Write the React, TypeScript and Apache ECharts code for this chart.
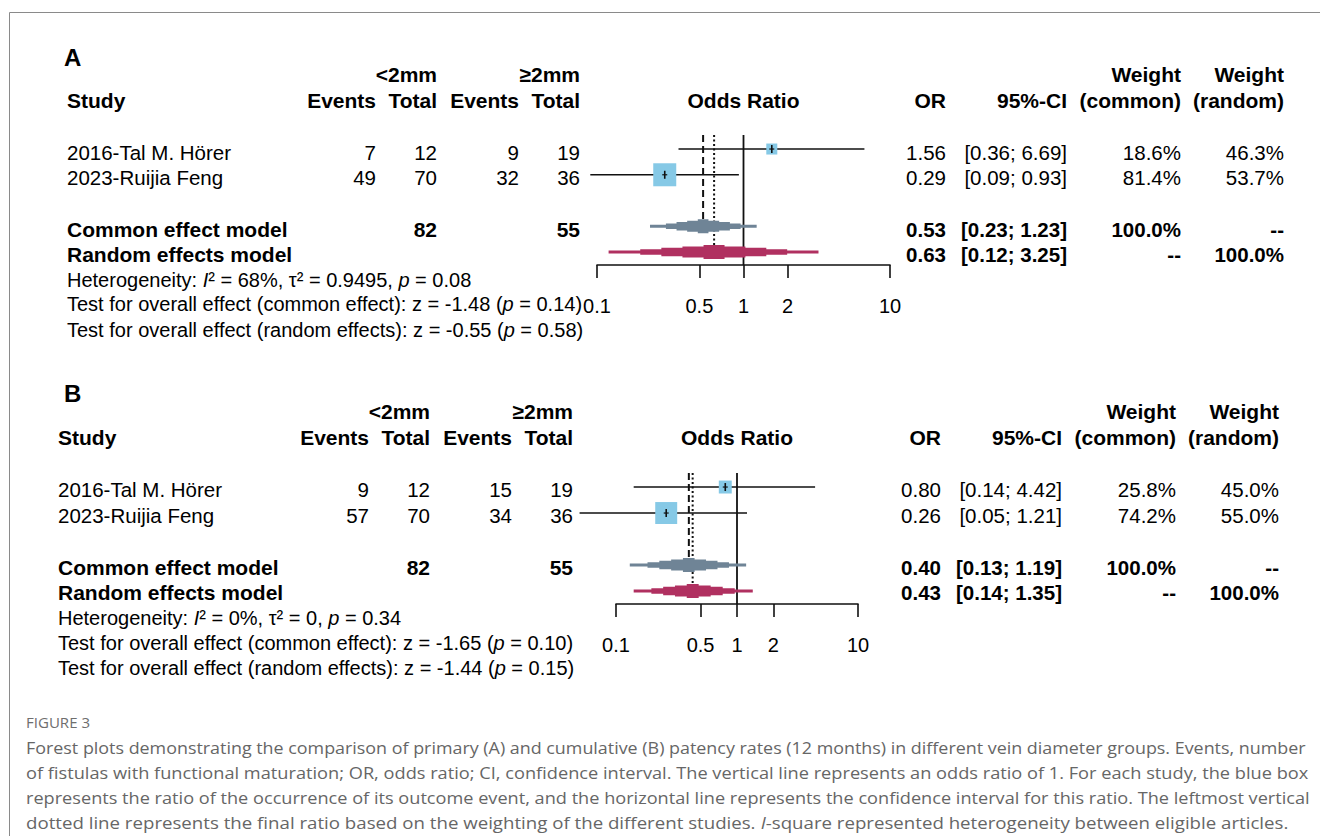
import React, { useEffect, useRef } from 'react';
import * as echarts from 'echarts';

// ---------------- DATA ----------------
const studies = ['2016-Tal M. Hörer', '2023-Ruijia Feng'];
const pooledLabels = ['Common effect model', 'Random effects model'];
const tickValues = [0.1, 0.5, 1, 2, 10];
const studyRows = [1, 2];
const pooledRows = [4, 5];

// Panel A (primary patency)
const aEventsLt = [7, 49];
const aTotalLt = [12, 70];
const aEventsGe = [9, 32];
const aTotalGe = [19, 36];
const aOR = [1.56, 0.29];
const aLower = [0.36, 0.09];
const aUpper = [6.69, 0.93];
const aWeightCommon = [18.6, 81.4];
const aWeightRandom = [46.3, 53.7];
const aPooledOR = [0.53, 0.63];
const aPooledLower = [0.23, 0.12];
const aPooledUpper = [1.23, 3.25];
const aPooledTotals = [82, 55];
const aHeterogeneity = ['68%', '0.9495', '0.08'];
const aTestCommon = ['-1.48', '0.14'];
const aTestRandom = ['-0.55', '0.58'];

// Panel B (cumulative patency)
const bEventsLt = [9, 57];
const bTotalLt = [12, 70];
const bEventsGe = [15, 34];
const bTotalGe = [19, 36];
const bOR = [0.80, 0.26];
const bLower = [0.14, 0.05];
const bUpper = [4.42, 1.21];
const bWeightCommon = [25.8, 74.2];
const bWeightRandom = [45.0, 55.0];
const bPooledOR = [0.40, 0.43];
const bPooledLower = [0.13, 0.14];
const bPooledUpper = [1.19, 1.35];
const bPooledTotals = [82, 55];
const bHeterogeneity = ['0%', '0', '0.34'];
const bTestCommon = ['-1.65', '0.10'];
const bTestRandom = ['-1.44', '0.15'];

const captionTitle = 'FIGURE 3';
const captionLines = [
  'Forest plots demonstrating the comparison of primary (A) and cumulative (B) patency rates (12 months) in different vein diameter groups. Events, number',
  'of fistulas with functional maturation; OR, odds ratio; CI, confidence interval. The vertical line represents an odds ratio of 1. For each study, the blue box',
  'represents the ratio of the occurrence of its outcome event, and the horizontal line represents the confidence interval for this ratio. The leftmost vertical',
  'dotted line represents the final ratio based on the weighting of the different studies. {it|I}-square represented heterogeneity between eligible articles.',
];

// ---------------- STYLE / LAYOUT ----------------
const F = '"Liberation Sans", Arial, Helvetica, sans-serif';
const CF = '"Open Sans", "Noto Sans", sans-serif';
const BOX_COLOR = '#86c9e6';
const COMMON_COLOR = '#6f8496';
const RANDOM_COLOR = '#b03060';
const REG = 20.5;
const BOLD = 21;
const INFO = 20;

const panels = [
  {
    label: 'A', labelY: 57, studyX: 67, colRight: [376, 437, 519, 580], h1: 74, h2: 100,
    rowsY: [152, 177, 229, 254], infoY: [280, 304, 330], orRight: 946, ciRight: 1067,
    wcRight: 1181, wrRight: 1284, grid: { left: 597, top: 135, width: 293, height: 130 },
    yMin: 0.455, yMax: 5.505,
    ev1: aEventsLt, tot1: aTotalLt, ev2: aEventsGe, tot2: aTotalGe,
    or: aOR, lo: aLower, hi: aUpper, wc: aWeightCommon, wr: aWeightRandom,
    pOR: aPooledOR, pLo: aPooledLower, pHi: aPooledUpper, pTot: aPooledTotals,
    het: aHeterogeneity, tc: aTestCommon, tr: aTestRandom,
  },
  {
    label: 'B', labelY: 393, studyX: 58, colRight: [369, 430, 512, 573], h1: 411, h2: 437,
    rowsY: [489, 515, 567, 592], infoY: [618, 643, 668], orRight: 941, ciRight: 1062,
    wcRight: 1176, wrRight: 1279, grid: { left: 616, top: 473, width: 242, height: 131 },
    yMin: 0.46, yMax: 5.5,
    ev1: bEventsLt, tot1: bTotalLt, ev2: bEventsGe, tot2: bTotalGe,
    or: bOR, lo: bLower, hi: bUpper, wc: bWeightCommon, wr: bWeightRandom,
    pOR: bPooledOR, pLo: bPooledLower, pHi: bPooledUpper, pTot: bPooledTotals,
    het: bHeterogeneity, tc: bTestCommon, tr: bTestRandom,
  },
];

const italicRich = {
  it: { fontStyle: 'italic', fontSize: INFO, fontFamily: F, fill: '#000' },
};

function txt(x: number, y: number, text: string, o: any = {}) {
  const align = o.align || 'left';
  const style: any = {
    text,
    fontSize: o.size || (o.bold ? BOLD : REG),
    fontFamily: o.family || F,
    fontWeight: o.bold ? 'bold' : 'normal',
    fill: o.color || '#000',
    align,
    verticalAlign: 'middle',
    textAlign: align,
    textVerticalAlign: 'middle',
  };
  if (o.rich) style.rich = o.rich;
  return { type: 'text', x, y, scaleX: o.sx || 1, silent: true, style };
}

const fmt2 = (v: number) => v.toFixed(2);
const ci = (l: number, h: number) => `[${fmt2(l)}; ${fmt2(h)}]`;
const pct = (v: number) => `${v.toFixed(1)}%`;

function panelTexts(p: any) {
  const els: any[] = [];
  const [c1, c2, c3, c4] = p.colRight;
  const oddsX = p.grid.left + p.grid.width / 2;
  els.push(txt(64, p.labelY, p.label, { bold: true, size: 24 }));
  els.push(txt(c2, p.h1, '<2mm', { bold: true, align: 'right' }));
  els.push(txt(c4, p.h1, '≥2mm', { bold: true, align: 'right' }));
  els.push(txt(p.wcRight, p.h1, 'Weight', { bold: true, align: 'right' }));
  els.push(txt(p.wrRight, p.h1, 'Weight', { bold: true, align: 'right' }));
  els.push(txt(p.studyX, p.h2, 'Study', { bold: true }));
  els.push(txt(c1, p.h2, 'Events', { bold: true, align: 'right' }));
  els.push(txt(c2, p.h2, 'Total', { bold: true, align: 'right' }));
  els.push(txt(c3, p.h2, 'Events', { bold: true, align: 'right' }));
  els.push(txt(c4, p.h2, 'Total', { bold: true, align: 'right' }));
  els.push(txt(oddsX, p.h2, 'Odds Ratio', { bold: true, align: 'center' }));
  els.push(txt(p.orRight, p.h2, 'OR', { bold: true, align: 'right' }));
  els.push(txt(p.ciRight, p.h2, '95%-CI', { bold: true, align: 'right' }));
  els.push(txt(p.wcRight, p.h2, '(common)', { bold: true, align: 'right' }));
  els.push(txt(p.wrRight, p.h2, '(random)', { bold: true, align: 'right' }));

  studies.forEach((s, i) => {
    const y = p.rowsY[i];
    els.push(txt(p.studyX, y, s));
    els.push(txt(c1, y, String(p.ev1[i]), { align: 'right' }));
    els.push(txt(c2, y, String(p.tot1[i]), { align: 'right' }));
    els.push(txt(c3, y, String(p.ev2[i]), { align: 'right' }));
    els.push(txt(c4, y, String(p.tot2[i]), { align: 'right' }));
    els.push(txt(p.orRight, y, fmt2(p.or[i]), { align: 'right' }));
    els.push(txt(p.ciRight, y, ci(p.lo[i], p.hi[i]), { align: 'right' }));
    els.push(txt(p.wcRight, y, pct(p.wc[i]), { align: 'right' }));
    els.push(txt(p.wrRight, y, pct(p.wr[i]), { align: 'right' }));
  });

  pooledLabels.forEach((s, i) => {
    const y = p.rowsY[2 + i];
    els.push(txt(p.studyX, y, s, { bold: true }));
    if (i === 0) {
      els.push(txt(c2, y, String(p.pTot[0]), { bold: true, align: 'right' }));
      els.push(txt(c4, y, String(p.pTot[1]), { bold: true, align: 'right' }));
    }
    els.push(txt(p.orRight, y, fmt2(p.pOR[i]), { bold: true, align: 'right', size: 20.5 }));
    els.push(txt(p.ciRight, y, ci(p.pLo[i], p.pHi[i]), { bold: true, align: 'right', size: 20.5 }));
    els.push(txt(p.wcRight, y, i === 0 ? '100.0%' : '--', { bold: true, align: 'right', size: 20.5 }));
    els.push(txt(p.wrRight, y, i === 1 ? '100.0%' : '--', { bold: true, align: 'right', size: 20.5 }));
  });

  els.push(txt(p.studyX, p.infoY[0],
    `Heterogeneity: {it|I}² = ${p.het[0]}, τ² = ${p.het[1]}, {it|p} = ${p.het[2]}`, { rich: italicRich, size: INFO }));
  els.push(txt(p.studyX, p.infoY[1],
    `Test for overall effect (common effect): z = ${p.tc[0]} ({it|p} = ${p.tc[1]})`, { rich: italicRich, size: INFO }));
  els.push(txt(p.studyX, p.infoY[2],
    `Test for overall effect (random effects): z = ${p.tr[0]} ({it|p} = ${p.tr[1]})`, { rich: italicRich, size: INFO }));
  return els;
}

function measure(text: string, font: string) {
  const c = document.createElement('canvas').getContext('2d');
  if (!c) return 0;
  c.font = font;
  return c.measureText(text).width;
}

function captionEls() {
  const els: any[] = [];
  const tw = measure(captionTitle, `15px ${CF}`);
  els.push(txt(26, 722, captionTitle, { family: CF, size: 15, color: '#6e6e6e', sx: tw > 0 ? 64 / tw : 1 }));
  const targets = [1281, 1283, 1284, 1263];
  const ys = [747, 772, 797, 822];
  captionLines.forEach((line, i) => {
    const plain = line.replace('{it|I}', 'I');
    const w = measure(plain, `17px ${CF}`);
    const sx = w > 0 ? targets[i] / w : 1;
    els.push(txt(26, ys[i], line, {
      family: CF, size: 17, color: '#666', sx,
      rich: { it: { fontStyle: 'italic', fontSize: 17, fontFamily: CF, fill: '#666' } },
    }));
  });
  return els;
}

// ---------------- RENDERERS ----------------
function renderStudy(params: any, api: any) {
  const est = api.value(0), lo = api.value(1), hi = api.value(2), row = api.value(3), w = api.value(4);
  const pE = api.coord([est, row]);
  const pL = api.coord([lo, row]);
  const pH = api.coord([hi, row]);
  const s = 2.55 * Math.sqrt(w);
  return {
    type: 'group',
    children: [
      { type: 'line', shape: { x1: pL[0], y1: pE[1], x2: pH[0], y2: pE[1] }, style: { stroke: '#111', lineWidth: 1.6 } },
      { type: 'rect', shape: { x: pE[0] - s / 2, y: pE[1] - s / 2, width: s, height: s }, style: { fill: BOX_COLOR } },
      { type: 'line', shape: { x1: pE[0], y1: pE[1] - 4, x2: pE[0], y2: pE[1] + 4 }, style: { stroke: '#111', lineWidth: 1.6 } },
      { type: 'line', shape: { x1: pE[0] - 2.5, y1: pE[1], x2: pE[0] + 2.5, y2: pE[1] }, style: { stroke: '#111', lineWidth: 1.2 } },
    ],
  };
}

function renderPooled(params: any, api: any) {
  const est = api.value(0), lo = api.value(1), hi = api.value(2), row = api.value(3), kind = api.value(4);
  const c = api.coord([est, row]);
  const l = api.coord([lo, row]);
  const r = api.coord([hi, row]);
  const y = c[1];
  const H = 7, n = 5;
  const frac = (i: number) => 1 - (i + 0.5) / n;
  const xl = (i: number) => (i === 0 ? l[0] : c[0] - (c[0] - l[0]) * frac(i));
  const xr = (i: number) => (i === 0 ? r[0] : c[0] + (r[0] - c[0]) * frac(i));
  const h = (i: number) => (H * (i + 1)) / n;
  const top: number[][] = [[l[0], y]];
  for (let i = 0; i < n; i++) {
    top.push([xl(i), y - (i === 0 ? 0 : h(i - 1))]);
    top.push([xl(i), y - h(i)]);
  }
  for (let i = n - 1; i >= 0; i--) {
    top.push([xr(i), y - h(i)]);
    top.push([xr(i), y - (i === 0 ? 0 : h(i - 1))]);
  }
  const bottom = top.slice().reverse().map((pt) => [pt[0], 2 * y - pt[1]]);
  const points = top.concat(bottom);
  return {
    type: 'polygon',
    shape: { points },
    style: { fill: kind === 0 ? COMMON_COLOR : RANDOM_COLOR },
  };
}

function renderRef(params: any, api: any) {
  const x = api.value(0), row = api.value(1), kind = api.value(2);
  const cs = params.coordSys;
  const px = api.coord([x, row])[0];
  const y1 = cs.y;
  const y2 = kind === 0 ? cs.y + cs.height : api.coord([x, row])[1] - 7;
  const dash = kind === 0 ? undefined : kind === 1 ? [7, 4] : [2, 2.5];
  return {
    type: 'line',
    shape: { x1: px, y1, x2: px, y2 },
    style: { stroke: '#111', lineWidth: kind === 0 ? 1.8 : 2, lineDash: dash },
  };
}

function buildOption() {
  const grids: any[] = [];
  const xAxes: any[] = [];
  const yAxes: any[] = [];
  const series: any[] = [];
  let graphics: any[] = [
    { type: 'line', silent: true, shape: { x1: 9.5, y1: 12.5, x2: 1320, y2: 12.5 }, style: { stroke: '#8a8a8a', lineWidth: 1 } },
    { type: 'line', silent: true, shape: { x1: 9.5, y1: 12.5, x2: 9.5, y2: 836 }, style: { stroke: '#8a8a8a', lineWidth: 1 } },
  ];
  panels.forEach((p, gi) => {
    grids.push({ ...p.grid, containLabel: false });
    xAxes.push({
      type: 'log', logBase: 10, min: 0.1, max: 10, gridIndex: gi,
      axisLine: { show: true, onZero: false, lineStyle: { color: '#111', width: 1.6 } },
      axisTick: { show: true, inside: false, length: 13, lineStyle: { color: '#111', width: 1.6 }, customValues: tickValues },
      axisLabel: {
        show: true, customValues: tickValues, margin: 31, fontSize: 20, fontFamily: F, color: '#000',
        formatter: (v: number) => String(+Number(v).toPrecision(3)),
      },
      splitLine: { show: false },
      minorTick: { show: false },
    });
    yAxes.push({ type: 'value', gridIndex: gi, min: p.yMin, max: p.yMax, inverse: true, show: false, splitLine: { show: false } });
    const refData = [[1, pooledRows[0], 0], [p.pOR[0], pooledRows[0], 1], [p.pOR[1], pooledRows[1], 2]];
    const pooledData = p.pOR.map((v: number, i: number) => [v, p.pLo[i], p.pHi[i], pooledRows[i], i]);
    const studyData = p.or.map((v: number, i: number) => [v, p.lo[i], p.hi[i], studyRows[i], p.wc[i]]);
    series.push({ type: 'custom', xAxisIndex: gi, yAxisIndex: gi, renderItem: renderRef, data: refData, encode: { x: 0, y: 1 }, clip: false, silent: true, z: 1 });
    series.push({ type: 'custom', xAxisIndex: gi, yAxisIndex: gi, renderItem: renderPooled, data: pooledData, encode: { x: 0, y: 3 }, clip: false, silent: true, z: 2 });
    series.push({ type: 'custom', xAxisIndex: gi, yAxisIndex: gi, renderItem: renderStudy, data: studyData, encode: { x: 0, y: 3 }, clip: false, silent: true, z: 3 });
    graphics = graphics.concat(panelTexts(p));
  });
  graphics = graphics.concat(captionEls());
  return {
    animation: false,
    backgroundColor: '#fff',
    grid: grids,
    xAxis: xAxes,
    yAxis: yAxes,
    series,
    graphic: { elements: graphics },
  };
}

export default function App() {
  const ref = useRef<HTMLDivElement>(null);
  useEffect(() => {
    if (!ref.current) return;
    const chart = echarts.init(ref.current, null, { renderer: 'svg' });
    chart.setOption(buildOption() as any);
    return () => chart.dispose();
  }, []);
  return (
    <div
      ref={ref}
      style={{ position: 'absolute', left: 0, top: 0, width: 1320, height: 836, background: '#fff' }}
    />
  );
}
